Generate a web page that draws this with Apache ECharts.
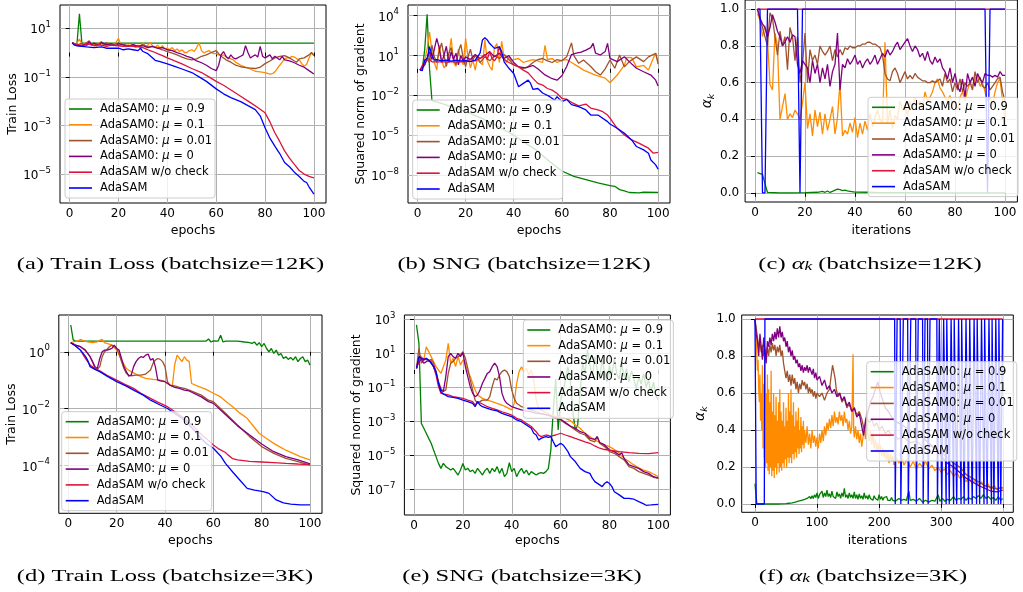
<!DOCTYPE html>
<html>
<head>
<meta charset="utf-8">
<script src="https://cdn.jsdelivr.net/npm/echarts@6/dist/echarts.min.js"></script>
<style>
html,body{margin:0;padding:0;background:#fff;}
#chart{width:1023px;height:592px;}
</style>
</head>
<body>
<div id="chart"></div>
<script>
// ---------- series names & colors ----------
const seriesNames = ['AdaSAM0: μ=0.9', 'AdaSAM0: μ=0.1', 'AdaSAM0: μ=0.01', 'AdaSAM0: μ=0', 'AdaSAM w/o check', 'AdaSAM'];
const seriesColors = ['#008000', '#ff8c00', '#a0522d', '#800080', '#dc143c', '#0000ff'];

// ---------- tick labels ----------
const epochTicks = [0, 20, 40, 60, 80, 100];
const iterTicks12K = [0, 20, 40, 60, 80, 100];
const iterTicks3K = [0, 100, 200, 300, 400];
const alphaTicks = [0, 0.2, 0.4, 0.6, 0.8, 1.0];
const lossExp12K = [-5, -3, -1, 1];
const sngExp12K = [-8, -5, -2, 1, 4];
const lossExp3K = [-4, -2, 0];
const sngExp3K = [-7, -5, -3, -1, 1, 3];

// ---------- (a) Train loss, batchsize 12K : [epoch, loss] ----------
const lossA_mu09 = [[1,2.5],[2,2.3],[3,2.3],[4,39],[5,2.45],[6,2.42],[10,2.42],[20,2.42],[30,2.42],[40,2.42],[50,2.42],[60,2.42],[70,2.42],[80,2.42],[90,2.42],[100,2.42]];
const lossA_mu01 = [[1,2.5],[2,2.3],[3,2.4],[4,3.6],[5,2.2],[6,2.4],[7,1.9],[8,2.6],[9,2.0],[10,2.3],[11,1.8],[12,2.5],[13,1.9],[14,2.2],[15,1.8],[16,2.4],[17,1.9],[18,2.1],[19,2.6],[20,3.8],[21,2.0],[22,2.4],[23,1.7],[24,2.1],[25,1.8],[26,2.3],[27,1.6],[28,2.0],[29,1.8],[30,2.5],[31,1.7],[32,2.0],[33,2.6],[34,1.8],[35,1.6],[36,2.0],[37,1.5],[38,1.9],[39,1.4],[40,1.5],[41,1.3],[42,1.6],[43,1.2],[44,1.4],[45,1.1],[46,1.3],[47,1.0],[48,1.0],[49,1.2],[50,1.3],[51,1.1],[52,1.6],[53,2.5],[54,1.2],[55,0.95],[56,1.1],[57,1.2],[58,1.0],[59,0.9],[60,0.9],[61,0.8],[62,0.75],[63,0.8],[64,0.65],[65,0.6],[66,0.55],[67,0.5],[68,0.4],[69,0.35],[70,0.3],[72,0.25],[74,0.21],[76,0.17],[78,0.16],[80,0.15],[82,0.13],[83,0.135],[84,0.16],[85,0.22],[86,0.3],[87,0.4],[88,0.55],[89,0.6],[90,0.6],[91,0.7],[92,0.65],[93,0.55],[94,0.5],[95,0.35],[96,0.28],[97,0.32],[98,0.6],[99,0.95],[100,0.8]];
const lossA_mu001 = [[1,2.5],[2,2.3],[3,2.1],[4,2.2],[5,2.4],[6,1.9],[7,2.6],[8,3.0],[9,2.1],[10,2.5],[11,2.0],[12,2.3],[13,2.8],[14,2.0],[15,2.6],[16,2.0],[17,2.2],[18,1.9],[19,2.4],[20,2.0],[22,2.2],[24,1.9],[26,2.0],[28,1.8],[30,2.1],[32,1.7],[34,1.8],[36,1.5],[38,1.3],[40,1.1],[42,0.95],[44,0.8],[46,0.65],[48,0.55],[50,0.5],[52,0.55],[54,0.7],[56,0.8],[58,1.0],[60,1.2],[61,0.9],[62,0.7],[64,0.5],[66,0.4],[68,0.3],[70,0.26],[72,0.24],[74,0.23],[76,0.22],[78,0.25],[80,0.35],[82,0.45],[84,0.6],[86,0.7],[88,0.75],[90,0.6],[92,0.45],[93,0.4],[94,0.55],[96,0.6],[98,0.8],[99,1.0],[100,0.75]];
const lossA_mu0 = [[1,2.5],[2,2.2],[3,2.0],[5,1.8],[6,2.2],[7,2.0],[8,2.8],[9,2.1],[10,2.4],[12,2.0],[13,2.6],[15,2.1],[17,2.3],[19,1.9],[20,2.4],[22,2.0],[24,1.8],[26,2.1],[28,1.8],[30,1.9],[32,1.6],[34,1.8],[36,1.5],[38,1.6],[40,1.3],[42,1.2],[44,1.0],[46,0.85],[48,0.7],[50,0.6],[52,0.45],[54,0.38],[56,0.3],[58,0.22],[60,0.18],[61,0.3],[62,0.8],[63,1.1],[64,0.7],[65,0.55],[66,0.8],[67,0.6],[68,0.55],[70,0.7],[71,0.8],[72,1.9],[73,1.0],[74,0.6],[75,0.7],[76,0.8],[77,0.65],[78,1.8],[79,0.7],[80,0.6],[82,0.8],[83,0.55],[84,0.7],[86,0.5],[87,0.7],[88,0.5],[90,0.45],[92,0.38],[94,0.3],[96,0.25],[98,0.18],[100,0.13]];
const lossA_noCheck = [[1,2.5],[3,2.1],[5,2.0],[8,2.2],[10,1.9],[12,2.1],[15,1.8],[17,2.0],[20,1.9],[22,1.8],[24,1.9],[26,1.8],[28,1.7],[30,1.6],[32,1.3],[34,1.1],[36,0.9],[38,0.75],[40,0.6],[43,0.45],[46,0.34],[50,0.22],[54,0.15],[57,0.1],[60,0.065],[63,0.045],[67,0.025],[70,0.016],[74,0.0087],[77,0.0055],[80,0.0033],[82,0.0014],[84,5e-4],[86,2.2e-4],[88,9e-5],[90,4.5e-5],[92,2.5e-5],[94,1.4e-5],[96,1.0e-5],[98,8e-6],[100,7e-6]];
const lossA_adasam = [[1,2.5],[2,2.0],[3,1.9],[5,1.8],[7,1.7],[10,1.6],[13,1.7],[15,1.5],[18,1.5],[20,1.5],[22,1.3],[24,1.4],[26,1.3],[28,1.2],[29,1.5],[30,1.1],[32,0.9],[34,0.6],[35,0.48],[37,0.42],[40,0.34],[43,0.27],[46,0.21],[50,0.15],[53,0.1],[56,0.065],[60,0.032],[63,0.02],[66,0.014],[70,0.0095],[73,0.0065],[76,0.0045],[78,0.0025],[80,8e-4],[82,3e-4],[84,1.4e-4],[86,7e-5],[88,3e-5],[90,2e-5],[92,1.2e-5],[94,8e-6],[96,5e-6],[97,4.5e-6],[98,3e-6],[100,1.5e-6]];

// ---------- (b) Squared norm of gradient, batchsize 12K ----------
const sngB_mu09 = [[1,0.8],[2,1.0],[3,30],[4,1.3e4],[5,1.0],[6,4e-3],[10,2.5e-3],[15,1.2e-3],[20,6.3e-4],[25,2.5e-4],[30,1e-4],[35,3.2e-5],[40,1e-5],[45,2.5e-6],[50,6.3e-7],[55,1e-7],[60,2e-8],[65,7.9e-9],[70,4.5e-9],[75,2.5e-9],[80,1.6e-9],[82,1.4e-9],[84,7.9e-10],[86,6.3e-10],[88,4.8e-10],[92,4.5e-10],[94,5e-10],[100,4.8e-10]];
const sngB_mu01 = [[1,0.8],[2,1],[3,5],[4,30],[5,600],[6,20],[7,3],[8,0.8],[9,60],[10,5],[11,1.2],[12,2],[13,10],[14,200],[15,3],[16,1.5],[17,30],[18,5],[19,2],[20,200],[21,8],[22,1.2],[23,5],[24,0.8],[25,10],[26,3],[27,2],[28,150],[29,4],[30,1.5],[31,0.8],[32,40],[33,80],[34,3],[35,120],[36,6],[37,3],[38,8],[39,4],[40,5],[42,6],[44,3],[46,4],[48,5],[50,4],[52,3],[53,60],[54,5],[56,6],[58,3],[60,4.5],[62,5],[64,3],[67,1.4],[69,0.8],[74,0.34],[78,0.2],[80,0.09],[83,0.34],[86,1.9],[87,7.4],[89,7],[91,1.4],[94,1.8],[96,0.8],[98,6.2],[99,15],[100,3.5]];
const sngB_mu001 = [[1,0.8],[3,2],[4,5],[5,3],[6,60],[7,8],[8,3],[9,20],[10,90],[11,10],[12,1.5],[13,15],[14,40],[15,5],[16,2],[17,20],[18,70],[19,6],[20,1.5],[21,8],[22,30],[23,5],[24,10],[26,3],[28,8],[30,4],[32,10],[34,6],[36,12],[38,5],[40,2],[42,1.5],[44,1.1],[46,1.5],[48,3],[50,5],[52,6],[54,4],[56,3],[58,5],[60,4],[62,8],[64,90],[65,10],[67,2.6],[69,4.6],[72,1.5],[74,0.6],[76,0.34],[78,1],[80,4.6],[82,1.1],[84,11],[86,1.4],[88,3.5],[91,8],[94,3.5],[96,8],[99,15],[100,2.3]];
const sngB_mu0 = [[1,0.8],[3,2],[5,20],[6,5],[7,30],[8,200],[9,40],[10,3],[11,10],[12,50],[13,3],[14,20],[15,5],[16,15],[17,2],[18,10],[19,4],[20,8],[22,5],[24,12],[26,6],[28,10],[30,20],[32,8],[34,15],[36,6],[38,10],[40,3],[42,1.4],[45,1.2],[48,1.8],[50,1.0],[53,0.35],[56,0.18],[58,0.14],[60,0.3],[62,1.5],[64,12],[66,15],[68,18],[70,26],[72,40],[73,83],[74,15],[76,11],[78,20],[79,83],[80,6.2],[83,3.5],[86,8.1],[88,3.5],[91,1.1],[94,0.6],[97,0.34],[99,0.14],[100,0.05]];
const sngB_noCheck = [[1,0.8],[3,4],[4,6],[5,5],[6,3.4],[10,3.4],[15,3.3],[20,3.4],[22,5],[24,4],[26,6],[28,12],[29,5],[30,19],[31,6],[32,4],[33,8],[34,50],[35,10],[36,5],[38,3],[40,2],[42,1.4],[44,0.8],[46,0.5],[48,0.19],[50,0.08],[52,0.06],[54,0.033],[56,0.025],[58,0.014],[60,0.006],[62,0.005],[64,0.003],[67,1.6e-3],[70,2.2e-3],[72,1.1e-3],[75,8e-4],[77,5.9e-4],[79,3.3e-4],[80,1.9e-4],[83,3.3e-5],[86,1.05e-5],[89,4.4e-6],[92,2.5e-6],[96,1.05e-6],[98,4.4e-7],[100,5e-7]];
const sngB_adasam = [[1,0.8],[2,0.75],[3,4.6],[4,6],[5,47],[6,10],[7,4.6],[8,5],[10,4],[12,4.5],[14,3.8],[16,4.5],[18,4],[20,4.2],[22,3.5],[24,4.5],[26,15],[27,150],[28,220],[29,150],[30,80],[32,35],[34,45],[35,20],[36,3.4],[38,1.1],[40,0.45],[42,0.045],[44,0.08],[46,0.14],[47,0.08],[48,0.028],[50,0.033],[52,0.015],[55,8e-3],[57,4.4e-3],[58,8e-3],[60,3.3e-3],[62,5e-3],[64,2e-3],[67,1.4e-3],[70,8e-4],[72,3.3e-4],[75,3.3e-4],[79,1.05e-4],[80,6.9e-5],[83,3.3e-5],[86,1.4e-5],[89,4.4e-6],[91,1.4e-6],[94,7.8e-7],[96,4.4e-7],[97,1.35e-7],[99,5.8e-8],[100,2.7e-8]];

// ---------- (c) alpha_k, batchsize 12K : value per iteration 1..100 ----------
const alphaC_mu09 = [[1,0.11],[2,0.105],[3,0.1],[4,0.05],[5,0.002],[10,0.0],[15,0.0],[20,0.001],[25,0.003],[27,0.008],[28,0.003],[29,0.01],[30,0.002],[31,0.008],[32,0.015],[33,0.02],[34,0.017],[35,0.012],[36,0.015],[37,0.01],[38,0.008],[40,0.004],[45,0.003],[50,0.001],[60,0.001],[70,0.0],[80,0.0],[90,0.0],[100,0.0]];
const alphaC_mu01 = [0.976,0.94,0.85,0.91,0.83,0.59,0.56,0.87,0.8,0.4,0.47,0.54,0.4,0.43,0.41,0.45,0.43,0.4,0.49,0.6,0.35,0.43,0.31,0.45,0.36,0.44,0.32,0.43,0.34,0.4,0.47,0.32,0.41,0.6,0.31,0.34,0.32,0.38,0.33,0.41,0.3,0.38,0.32,0.39,0.34,0.43,0.36,0.41,0.45,0.4,0.38,0.82,0.38,0.45,0.35,0.42,0.4,0.5,0.45,0.48,0.42,0.5,0.45,0.52,0.48,0.5,0.46,0.55,0.5,0.52,0.55,0.6,0.62,0.57,0.55,0.52,0.5,0.53,0.48,0.5,0.45,0.52,0.55,0.5,0.56,0.6,0.58,0.62,0.64,0.58,0.6,0.55,0.5,0.52,0.48,0.55,0.6,0.62,0.5,0.4];
const alphaC_mu001 = [1.0,0.95,0.9,0.85,0.8,0.98,0.95,0.85,0.75,0.88,0.8,0.85,0.67,0.9,0.85,0.72,0.85,0.6,0.7,0.87,0.6,0.78,0.72,0.75,0.7,0.8,0.77,0.75,0.77,0.8,0.72,0.78,0.74,0.78,0.75,0.79,0.78,0.8,0.79,0.79,0.8,0.8,0.81,0.81,0.82,0.82,0.81,0.81,0.8,0.79,0.75,0.65,0.62,0.61,0.66,0.68,0.65,0.6,0.63,0.66,0.62,0.64,0.62,0.65,0.63,0.62,0.61,0.61,0.6,0.6,0.61,0.6,0.61,0.62,0.58,0.65,0.6,0.62,0.55,0.6,0.56,0.62,0.55,0.6,0.58,0.6,0.56,0.66,0.6,0.63,0.58,0.57,0.6,0.56,0.58,0.6,0.62,0.63,0.55,0.5];
const alphaC_mu0 = [1.0,0.95,0.92,0.9,0.85,0.9,0.97,0.93,0.88,0.85,0.8,0.82,0.85,0.82,0.86,0.85,0.7,0.65,0.72,0.7,0.68,0.6,0.72,0.65,0.7,0.6,0.68,0.62,0.7,0.58,0.66,0.7,0.87,0.56,0.7,0.68,0.73,0.7,0.72,0.75,0.7,0.72,0.68,0.71,0.73,0.7,0.72,0.75,0.7,0.73,0.76,0.74,0.78,0.75,0.77,0.8,0.82,0.78,0.8,0.82,0.84,0.8,0.77,0.8,0.78,0.74,0.76,0.72,0.77,0.72,0.7,0.74,0.71,0.73,0.68,0.66,0.62,0.68,0.6,0.65,0.58,0.55,0.62,0.52,0.65,0.6,0.63,0.58,0.65,0.62,0.6,0.65,0.64,0.64,0.63,0.64,0.63,0.66,0.64,0.64];
const alphaC_noCheck = [1,1,1,1,1,1,1,1,1,1,1,1,1,1,1,1,1,1,1,1,1,1,1,1,1,1,1,1,1,1,1,1,1,1,1,1,1,1,1,1,1,1,1,1,1,1,1,1,1,1,1,1,1,1,1,1,1,1,1,1,1,1,1,1,1,1,1,1,1,1,1,1,1,1,1,1,1,1,1,1,1,1,1,1,1,1,1,1,1,1,1,1,1,1,1,1,1,1,1,1];
const alphaC_adasam = [1,1,0,0,1,1,1,1,1,1,1,1,1,1,1,1,1,0,1,1,1,1,1,1,1,1,1,1,1,1,1,1,1,1,1,1,1,1,1,1,1,1,1,1,1,1,1,1,1,1,1,1,1,1,1,1,1,1,1,1,1,1,1,1,1,1,1,1,1,1,1,1,1,1,1,1,1,1,1,1,1,1,1,1,1,1,1,1,1,1,1,1,0,1,1,1,1,1,1,1];

// ---------- (d) Train loss, batchsize 3K ----------
const lossD_mu09 = [[1,8.7],[2,2.6],[3,2.37],[10,2.37],[20,2.37],[30,2.37],[40,2.37],[50,2.37],[57,2.37],[58,2.8],[59,2.2],[60,2.4],[62,2.37],[63,3.8],[64,2.2],[65,2.37],[70,2.37],[73,2.2],[75,2.1],[76,1.96],[77,2.2],[78,1.7],[79,2.1],[80,1.5],[81,1.96],[82,1.3],[83,1.0],[84,1.3],[85,0.87],[86,1.14],[87,0.76],[88,0.87],[89,0.58],[90,0.67],[91,0.54],[92,0.63],[93,0.51],[94,0.67],[95,0.45],[96,0.58],[97,0.67],[98,0.45],[99,0.51],[100,0.34]];
const lossD_mu01 = [[1,2.07],[2,2.24],[4,2.4],[5,2.7],[6,2.5],[8,2.24],[10,2.1],[12,2.24],[13,2.5],[14,2.7],[15,2.07],[16,1.96],[18,1.71],[20,1.14],[22,0.5],[24,0.26],[26,0.2],[28,0.165],[30,0.133],[32,0.116],[35,0.107],[38,0.101],[40,0.089],[42,0.068],[43,0.059],[44,0.35],[45,0.76],[46,0.58],[47,0.45],[48,0.67],[49,0.51],[50,0.45],[51,0.077],[54,0.06],[57,0.048],[60,0.035],[63,0.026],[66,0.016],[68,0.0118],[71,0.007],[74,4.6e-3],[77,2.2e-3],[79,1.35e-3],[82,9e-4],[85,6.1e-4],[88,4.3e-4],[90,3.5e-4],[93,2.7e-4],[96,2.1e-4],[100,1.6e-4]];
const lossD_mu001 = [[1,2.07],[3,1.71],[5,1.5],[7,1.14],[9,0.67],[10,0.45],[11,0.26],[12,0.24],[13,0.3],[14,0.67],[15,1.0],[16,1.2],[17,1.5],[18,1.71],[19,1.5],[20,1.31],[21,0.87],[22,0.45],[23,0.26],[24,0.174],[25,0.152],[26,0.144],[28,0.152],[30,0.152],[32,0.165],[34,0.23],[35,0.39],[36,0.51],[37,0.58],[38,0.54],[39,0.45],[40,0.3],[41,0.089],[42,0.068],[44,0.063],[46,0.056],[48,0.052],[50,0.045],[55,0.03],[58,0.02],[60,0.0178],[65,6.9e-3],[70,2.7e-3],[75,1.05e-3],[80,4.7e-4],[85,2.7e-4],[90,1.8e-4],[95,1.38e-4],[100,1.05e-4]];
const lossD_mu0 = [[1,2.07],[3,1.71],[5,1.5],[7,1.14],[9,0.67],[10,0.45],[11,0.3],[12,0.26],[13,0.58],[14,1.0],[15,1.14],[16,1.14],[17,1.21],[18,1.31],[19,1.71],[20,1.31],[21,1.14],[22,0.58],[23,0.3],[24,0.2],[25,0.14],[26,0.152],[27,0.3],[28,0.45],[29,0.58],[30,0.67],[31,0.63],[32,0.76],[33,0.83],[34,0.51],[35,0.58],[36,0.3],[37,0.101],[38,0.096],[40,0.089],[42,0.068],[44,0.056],[46,0.052],[48,0.045],[50,0.042],[55,0.026],[58,0.0178],[60,0.0154],[65,6.3e-3],[70,2.5e-3],[75,1.2e-3],[80,5.8e-4],[85,3.1e-4],[90,2.1e-4],[95,1.6e-4],[100,1.15e-4]];
const lossD_noCheck = [[1,2.07],[3,1.6],[5,1.14],[7,0.6],[9,0.34],[11,0.26],[13,0.215],[16,0.15],[20,0.101],[23,0.075],[27,0.052],[30,0.035],[34,0.023],[37,0.017],[41,0.0118],[44,8e-3],[48,4.6e-3],[52,2.3e-3],[54,1.5e-3],[57,9.1e-4],[60,5.3e-4],[62,4e-4],[65,2.9e-4],[66,2.4e-4],[68,1.77e-4],[70,1.6e-4],[75,1.42e-4],[80,1.35e-4],[85,1.28e-4],[90,1.21e-4],[95,1.15e-4],[100,1.1e-4]];
const lossD_adasam = [[1,2.07],[3,1.6],[5,1.14],[7,0.7],[8,0.5],[9,0.3],[11,0.24],[13,0.2],[16,0.14],[20,0.089],[24,0.062],[27,0.045],[31,0.03],[34,0.02],[38,0.0135],[41,0.0102],[45,6e-3],[48,4.0e-3],[52,1.78e-3],[55,9e-4],[57,6.1e-4],[60,4.1e-4],[63,2.2e-4],[65,1.21e-4],[68,6e-5],[71,3.1e-5],[74,1.6e-5],[77,1.4e-5],[79,1.32e-5],[81,1.2e-5],[83,1.07e-5],[86,6.3e-6],[89,5e-6],[92,4.5e-6],[96,4.2e-6],[100,4.2e-6]];

// ---------- (e) Squared norm of gradient, batchsize 3K ----------
const sngE_mu09 = [[1,447],[2,37],[3,7.2e-4],[4,3.7e-4],[5,1.9e-4],[6,9.5e-5],[7,4.9e-5],[8,1.96e-5],[9,8e-6],[10,3.2e-6],[11,1.64e-6],[12,3.2e-6],[13,2.06e-6],[14,1.64e-6],[15,1.3e-6],[16,1.64e-6],[17,1.05e-6],[18,6.6e-7],[19,1.3e-6],[20,3.2e-6],[21,1.3e-6],[22,1.64e-6],[23,1.05e-6],[24,1.3e-6],[25,8.3e-7],[26,1.64e-6],[27,1.05e-6],[28,6.6e-7],[29,1.2e-6],[30,1.64e-6],[31,8.3e-7],[32,1.64e-6],[33,1.05e-6],[34,2.06e-6],[35,8.3e-7],[36,1.64e-6],[37,5.3e-7],[38,8.3e-7],[39,3.5e-6],[40,1.05e-6],[41,1.64e-6],[42,5.3e-7],[43,1.05e-6],[44,1.64e-6],[45,8.3e-7],[46,1.3e-6],[47,6.6e-7],[48,1.05e-6],[49,8.3e-7],[50,6.6e-7],[51,8.3e-7],[52,9.2e-7],[53,8.3e-7],[54,1.05e-6],[55,1.64e-6],[56,2e-5],[57,4.5e-3],[58,0.3],[59,2.96e-4],[60,0.017],[61,0.05],[62,0.3],[63,1.5],[64,0.2],[65,4e-3],[66,2.96e-4],[67,5.8e-4],[68,0.05],[69,3],[70,0.6],[71,15],[72,2],[73,0.4],[74,6],[75,1],[76,0.3],[77,4],[78,0.8],[79,0.2],[80,2],[81,0.5],[82,5],[83,0.6],[84,0.3],[85,2.5],[86,0.4],[87,1.2],[88,0.2],[89,0.9],[90,0.3],[91,0.08],[92,0.4],[93,0.15],[94,0.6],[95,0.1],[96,0.25],[97,0.05],[98,0.2],[99,0.03],[100,0.017]];
const sngE_mu01 = [[1,1.26],[2,7.6],[3,6.1],[4,3.9],[5,23],[6,12],[7,6.1],[8,3.1],[9,1.57],[10,1.0],[11,0.63],[12,1.57],[13,3.9],[14,37],[15,2.5],[16,4.9],[17,1.57],[18,6.1],[19,2.0],[20,3.9],[21,2.5],[22,0.8],[23,0.41],[24,0.165],[25,0.066],[26,0.034],[28,0.0214],[30,0.017],[32,0.0138],[34,0.011],[36,8.7e-3],[38,6.3e-3],[40,4.5e-3],[41,0.011],[42,0.165],[43,0.8],[44,1.57],[45,0.8],[46,1.26],[47,0.51],[48,1.0],[49,0.26],[50,0.017],[51,5.6e-3],[52,4.5e-3],[54,3.1e-3],[56,2.2e-3],[58,1.8e-3],[60,1.66e-3],[62,1.44e-3],[64,1.05e-3],[66,5.8e-4],[68,3.7e-4],[70,1.9e-4],[72,1.2e-4],[74,7.6e-5],[76,5.4e-5],[78,3.9e-5],[80,3.1e-5],[82,2.1e-5],[84,1.26e-5],[86,6.3e-6],[88,4.1e-6],[90,2.6e-6],[92,1.78e-6],[94,1.3e-6],[96,1.05e-6],[98,7.6e-7],[100,5.3e-7]];
const sngE_mu001 = [[1,1.26],[2,19],[3,2.5],[4,3.9],[5,4.9],[6,3.1],[7,4.3],[8,2.5],[9,0.8],[10,0.21],[11,0.083],[12,0.054],[13,0.066],[14,0.63],[15,2.5],[16,3.1],[17,4.9],[18,6.1],[19,7.6],[20,12],[21,4.9],[22,1.26],[23,0.26],[24,0.066],[25,0.017],[26,0.011],[27,0.0138],[28,0.017],[30,0.017],[31,0.027],[32,0.105],[33,0.32],[34,0.26],[35,0.51],[36,0.8],[37,1.0],[38,0.8],[39,0.41],[40,0.066],[41,0.0214],[42,0.011],[44,6.9e-3],[46,5.6e-3],[48,4.5e-3],[50,3.5e-3],[52,2.8e-3],[55,2.2e-3],[58,1.66e-3],[60,1.15e-3],[62,7.2e-4],[64,4.7e-4],[66,2.96e-4],[68,1.9e-4],[70,1.5e-4],[72,7.6e-5],[74,6e-5],[75,1.2e-4],[76,4.9e-5],[78,3.1e-5],[80,1.58e-5],[82,1.26e-5],[84,8e-6],[86,5.1e-6],[88,2.06e-6],[90,1.64e-6],[92,1.05e-6],[94,8.3e-7],[96,6.6e-7],[98,4.9e-7],[100,4.3e-7]];
const sngE_mu0 = [[1,1.26],[2,3.1],[3,4.3],[4,2.5],[5,3.1],[6,3.9],[7,2.5],[8,1.57],[9,0.63],[10,0.165],[11,0.066],[12,0.054],[13,0.41],[14,6.1],[15,9.6],[16,6.1],[17,4.9],[18,9.6],[19,6.1],[20,10.5],[21,1.57],[22,0.41],[23,0.105],[24,0.042],[25,0.027],[26,0.034],[27,0.066],[28,0.165],[29,0.32],[30,0.63],[31,0.8],[32,1.57],[33,2.5],[34,1.57],[35,0.41],[36,0.042],[37,0.017],[38,0.011],[40,6.9e-3],[42,5.6e-3],[44,4.5e-3],[46,3.9e-3],[48,3.4e-3],[50,2.8e-3],[52,2.6e-3],[55,2.2e-3],[58,1.44e-3],[60,1.26e-3],[62,8e-4],[64,5.1e-4],[66,3.7e-4],[68,2.35e-4],[70,1.9e-4],[72,9.5e-5],[74,8.3e-5],[75,1.2e-4],[76,5.4e-5],[78,3.9e-5],[80,1.96e-5],[82,1.58e-5],[84,1e-5],[85,1.38e-5],[86,6.3e-6],[88,2.6e-6],[90,2.06e-6],[92,1.64e-6],[94,1.05e-6],[96,8.3e-7],[98,5.3e-7],[100,4.3e-7]];
const sngE_noCheck = [[1,1.26],[2,3.9],[3,4.9],[5,4.3],[7,3.1],[8,1.57],[9,0.51],[10,0.105],[11,0.042],[12,0.039],[14,0.034],[16,0.027],[18,0.0245],[20,0.0214],[22,0.017],[24,0.0138],[25,8.7e-3],[26,0.0138],[28,0.01],[30,6.9e-3],[32,5.6e-3],[34,4.5e-3],[36,3.5e-3],[38,2.8e-3],[40,2.2e-3],[42,1.44e-3],[44,1.15e-3],[46,7.2e-4],[48,4.7e-4],[50,2.35e-4],[51,1.5e-4],[52,1.2e-4],[54,1.5e-4],[56,1.3e-4],[58,1.5e-4],[60,1.9e-4],[62,1.5e-4],[64,1.2e-4],[66,9.5e-5],[68,7.6e-5],[70,6e-5],[72,4.9e-5],[74,3.4e-5],[76,2.5e-5],[78,2.1e-5],[80,1.96e-5],[84,1.58e-5],[88,1.38e-5],[92,1.26e-5],[96,1.2e-5],[100,1.38e-5]];
const sngE_adasam = [[1,1.26],[2,6.1],[3,4.9],[4,3.9],[5,4.9],[6,3.9],[7,2.5],[8,1.57],[9,0.8],[10,0.165],[11,0.054],[12,0.039],[14,0.027],[16,0.0245],[18,0.0214],[20,0.017],[22,0.0138],[24,0.011],[25,6.9e-3],[26,0.0138],[27,8.7e-3],[28,6.9e-3],[30,5.6e-3],[32,4.5e-3],[34,3.9e-3],[36,2.8e-3],[38,2.2e-3],[40,1.8e-3],[42,1.15e-3],[44,9.1e-4],[46,5.8e-4],[48,3.7e-4],[49,1.9e-4],[50,1.5e-4],[51,7.6e-5],[52,9.5e-5],[53,1.1e-4],[54,1.2e-4],[55,1.1e-4],[56,1.2e-4],[57,6e-5],[58,3.1e-5],[59,3.9e-5],[60,4.9e-5],[61,3.9e-5],[62,2.5e-5],[63,1.58e-5],[64,8e-6],[66,4.1e-6],[68,1.64e-6],[70,1.05e-6],[72,8.3e-7],[73,4.3e-7],[74,2.7e-7],[76,1.74e-7],[77,1.38e-7],[78,2.1e-7],[79,2.7e-7],[80,2.1e-7],[81,1.38e-7],[82,6.9e-8],[84,4.5e-8],[86,2.8e-8],[88,2.8e-8],[90,2.5e-8],[92,1.8e-8],[94,1.32e-8],[95,1.1e-8],[97,1.15e-8],[100,1.26e-8]];

// ---------- (f) alpha_k, batchsize 3K : [iteration, alpha] ----------
const alphaF_mu09 = [[0,0.11],[1,0.1],[2,0.1],[3,0.0],[10,0.0],[20,0.0],[30,0.0],[40,0.0],[50,0.002],[55,0.004],[60,0.006],[65,0.01],[70,0.015],[75,0.02],[80,0.025],[84,0.03],[86,0.02],[88,0.04],[90,0.028],[92,0.045],[94,0.03],[96,0.05],[98,0.035],[100,0.06],[102,0.03],[104,0.05],[106,0.04],[108,0.07],[110,0.035],[112,0.06],[114,0.04],[116,0.075],[118,0.04],[120,0.055],[122,0.035],[124,0.07],[126,0.04],[128,0.05],[130,0.03],[132,0.065],[134,0.04],[136,0.055],[138,0.03],[140,0.06],[142,0.04],[144,0.085],[146,0.035],[148,0.05],[150,0.03],[152,0.06],[154,0.035],[156,0.05],[158,0.03],[160,0.065],[162,0.03],[164,0.05],[166,0.025],[168,0.055],[170,0.03],[172,0.045],[174,0.025],[176,0.06],[178,0.03],[180,0.045],[182,0.025],[184,0.05],[186,0.03],[188,0.04],[190,0.02],[192,0.045],[194,0.03],[196,0.035],[198,0.02],[200,0.05],[202,0.025],[204,0.04],[206,0.02],[208,0.035],[210,0.025],[212,0.04],[214,0.02],[216,0.03],[218,0.02],[220,0.035],[222,0.02],[224,0.03],[226,0.015],[228,0.02],[232,0.03],[236,0.02],[240,0.025],[244,0.02],[248,0.07],[250,0.02],[255,0.025],[260,0.015],[265,0.03],[270,0.01],[275,0.02],[280,0.01],[285,0.02],[290,0.015],[295,0.05],[298,0.015],[302,0.03],[306,0.015],[310,0.025],[315,0.02],[320,0.04],[324,0.02],[328,0.03],[332,0.025],[336,0.04],[340,0.02],[344,0.035],[348,0.025],[352,0.04],[356,0.03],[360,0.045],[364,0.03],[368,0.05],[372,0.03],[376,0.04],[380,0.025],[384,0.035],[388,0.02],[392,0.04],[396,0.02],[399,0.03]];
const alphaF_mu01 = [[0,1.0],[1,0.96],[2,0.9],[3,0.8],[4,0.72],[5,0.78],[6,0.62],[7,0.55],[8,0.7],[9,0.45],[10,0.6],[11,0.4],[12,0.75],[13,0.3],[14,0.65],[15,0.25],[16,0.8],[17,0.2],[18,0.6],[19,0.22],[20,0.7],[21,0.18],[22,0.62],[23,0.16],[24,0.55],[25,0.2],[26,0.72],[27,0.15],[28,0.5],[29,0.18],[30,0.6],[31,0.14],[32,0.48],[33,0.2],[34,0.58],[35,0.16],[36,0.45],[37,0.22],[38,0.55],[39,0.17],[40,0.62],[41,0.2],[42,0.5],[43,0.18],[44,0.45],[45,0.22],[46,0.55],[47,0.2],[48,0.42],[49,0.24],[50,0.52],[51,0.2],[52,0.45],[53,0.25],[54,0.6],[55,0.22],[56,0.5],[57,0.25],[58,0.62],[59,0.22],[60,0.48],[61,0.27],[62,0.55],[63,0.24],[64,0.42],[65,0.28],[66,0.5],[67,0.25],[68,0.45],[69,0.3],[70,0.52],[71,0.27],[72,0.4],[73,0.3],[74,0.47],[75,0.28],[76,0.42],[77,0.32],[78,0.45],[79,0.3],[80,0.4],[82,0.33],[84,0.42],[86,0.32],[88,0.38],[90,0.3],[92,0.4],[94,0.33],[96,0.37],[98,0.31],[100,0.36],[102,0.3],[104,0.38],[106,0.33],[108,0.4],[110,0.34],[112,0.42],[114,0.37],[116,0.44],[118,0.4],[120,0.46],[122,0.41],[124,0.48],[126,0.42],[128,0.5],[130,0.44],[132,0.47],[134,0.43],[136,0.5],[138,0.45],[140,0.48],[142,0.42],[144,0.5],[146,0.44],[148,0.46],[150,0.4],[152,0.45],[154,0.38],[156,0.42],[158,0.81],[159,0.4],[160,0.36],[162,0.42],[164,0.35],[166,0.4],[168,0.33],[170,0.38],[172,0.31],[174,0.36],[176,0.42],[178,0.35],[180,0.5],[182,0.38],[184,0.34],[186,0.4],[188,0.32],[190,0.38],[192,0.3],[194,0.35],[196,0.28],[198,0.33],[200,0.27],[202,0.32],[204,0.26],[206,0.3],[208,0.25],[210,0.29],[212,0.24],[214,0.28],[216,0.22],[218,0.27],[220,0.23],[222,0.26],[224,0.21],[228,0.25],[232,0.22],[236,0.26],[240,0.21],[245,0.24],[250,0.2],[255,0.23],[260,0.19],[265,0.22],[270,0.2],[275,0.23],[280,0.19],[285,0.21],[290,0.18],[295,0.2],[300,0.17],[305,0.19],[310,0.16],[315,0.18],[320,0.15],[325,0.17],[330,0.14],[335,0.15],[340,0.12],[345,0.14],[350,0.11],[355,0.13],[360,0.1],[365,0.12],[370,0.09],[375,0.11],[380,0.08],[385,0.1],[390,0.08],[395,0.09],[399,0.08]];
const alphaF_mu001 = [[0,1.0],[2,0.95],[4,0.9],[6,0.85],[8,0.88],[10,0.82],[12,0.86],[14,0.8],[16,0.84],[18,0.78],[20,0.85],[22,0.8],[24,0.86],[26,0.82],[28,0.87],[30,0.83],[32,0.86],[34,0.8],[36,0.85],[38,0.82],[40,0.86],[42,0.8],[44,0.83],[46,0.76],[48,0.72],[50,0.68],[52,0.72],[54,0.66],[56,0.7],[58,0.64],[60,0.7],[62,0.65],[64,0.68],[66,0.62],[68,0.66],[70,0.6],[72,0.65],[74,0.62],[76,0.67],[78,0.64],[80,0.66],[82,0.62],[84,0.65],[86,0.6],[88,0.63],[90,0.6],[92,0.62],[94,0.58],[96,0.61],[98,0.57],[100,0.6],[104,0.58],[108,0.6],[112,0.56],[116,0.6],[120,0.62],[123,0.7],[125,0.75],[127,0.74],[129,0.68],[131,0.62],[134,0.58],[137,0.6],[140,0.55],[144,0.57],[148,0.52],[152,0.54],[156,0.5],[160,0.52],[164,0.48],[168,0.5],[172,0.46],[176,0.4],[180,0.47],[184,0.44],[188,0.46],[192,0.42],[196,0.44],[200,0.4],[205,0.42],[210,0.38],[215,0.4],[220,0.37],[225,0.38],[230,0.35],[240,0.36],[250,0.33],[260,0.34],[270,0.31],[280,0.32],[290,0.3],[300,0.28],[310,0.25],[320,0.22],[330,0.2],[340,0.16],[350,0.14],[360,0.12],[370,0.1],[380,0.09],[390,0.08],[399,0.09]];
const alphaF_mu0 = [[0,1.0],[2,0.92],[4,0.88],[6,0.8],[8,0.92],[10,0.85],[12,0.78],[14,0.9],[16,0.83],[18,0.76],[20,0.88],[22,0.85],[24,0.9],[26,0.86],[28,0.92],[30,0.88],[32,0.93],[34,0.89],[36,0.95],[38,0.9],[40,0.96],[42,0.9],[44,0.93],[46,0.88],[48,0.9],[50,0.85],[52,0.88],[54,0.82],[56,0.85],[58,0.8],[60,0.83],[62,0.78],[64,0.8],[66,0.76],[68,0.78],[70,0.74],[72,0.76],[74,0.72],[76,0.75],[78,0.71],[80,0.74],[82,0.72],[84,0.75],[86,0.71],[88,0.74],[90,0.72],[92,0.7],[94,0.73],[96,0.68],[98,0.71],[100,0.67],[104,0.69],[108,0.64],[112,0.67],[116,0.62],[120,0.64],[124,0.6],[128,0.62],[132,0.58],[136,0.6],[140,0.56],[144,0.58],[148,0.53],[152,0.55],[156,0.5],[160,0.52],[164,0.47],[168,0.49],[172,0.42],[175,0.37],[178,0.45],[182,0.5],[186,0.55],[190,0.58],[194,0.62],[198,0.66],[202,0.6],[206,0.56],[210,0.52],[215,0.5],[220,0.47],[225,0.45],[230,0.44],[240,0.42],[250,0.4],[260,0.38],[270,0.36],[280,0.33],[290,0.3],[300,0.26],[310,0.22],[320,0.2],[330,0.17],[340,0.14],[350,0.12],[360,0.1],[370,0.085],[380,0.07],[390,0.065],[399,0.075]];
const alphaF_noCheck = [[0,1],[50,1],[100,1],[150,1],[200,1],[250,1],[300,1],[350,1],[399,1]];
const alphaF_adasam = [[0,1],[1,1],[2,0],[15,0],[16,1],[225,1],[226,0],[228,0],[229,1],[234,1],[235,0],[238,0],[239,1],[246,1],[247,0],[250,0],[251,1],[259,1],[260,0],[262,0],[263,1],[270,1],[271,0],[273,0],[274,1],[278,1],[279,0],[281,0],[282,1],[293,1],[294,0],[296,0],[297,1],[300,1],[301,0],[303,0],[304,1],[307,1],[308,0],[309,1],[312,1],[313,0],[315,0],[316,1],[319,1],[320,0],[321,1],[324,1],[325,0],[327,0],[328,1],[331,1],[332,0],[333,1],[336,1],[337,0],[339,0],[340,1],[343,1],[344,0],[346,1],[349,1],[350,0],[352,0],[353,1],[356,1],[357,0],[358,1],[361,1],[362,0],[364,0],[365,1],[368,1],[369,0],[370,1],[373,1],[374,0],[376,0],[377,1],[380,1],[381,0],[382,1],[384,1],[385,0],[387,0],[388,1],[391,1],[392,0],[393,1],[395,1],[396,0],[398,0],[399,1]];

// ---------- helpers ----------
const FONT = 'DejaVu Sans';
const toPairs = arr => arr.map((v, i) => [i + 1, v]);

const panels = [
  { grid: {left: 60, top: 5, width: 266, height: 198}, x: [-3.95, 104.95], xTicks: epochTicks, xName: 'epochs', xGap: 21,
    y: [-6.19, 1.955], yTicks: lossExp12K, log: true, yName: 'Train Loss', yGap: 38, yMargin: 9,
    data: [lossA_mu09, lossA_mu01, lossA_mu001, lossA_mu0, lossA_noCheck, lossA_adasam], legend: [65, 99, 1.8] },
  { grid: {left: 408, top: 5, width: 262, height: 198}, x: [-3.95, 104.95], xTicks: epochTicks, xName: 'epochs', xGap: 21,
    y: [-10.11, 4.81], yTicks: sngExp12K, log: true, yName: 'Squared norm of gradient', yGap: 38, yMargin: 9,
    data: [sngB_mu09, sngB_mu01, sngB_mu001, sngB_mu0, sngB_noCheck, sngB_adasam], legend: [412.7, 100, 1.8] },
  { grid: {left: 745.1, top: 0, width: 272.3, height: 202}, x: [-3.95, 104.95], xTicks: iterTicks12K, xName: 'iterations', xGap: 22,
    y: [-0.05, 1.05], yTicks: alphaTicks, log: false, yName: 'alpha', yGap: 29, yMargin: 6,
    data: [alphaC_mu09, toPairs(alphaC_mu01), toPairs(alphaC_mu001), toPairs(alphaC_mu0), toPairs(alphaC_noCheck), toPairs(alphaC_adasam)], legend: [868, 97.3, 1.86] },
  { grid: {left: 58.8, top: 315, width: 263.2, height: 198.3}, x: [-3.95, 104.95], xTicks: epochTicks, xName: 'epochs', xGap: 21,
    y: [-5.67, 1.29], yTicks: lossExp3K, log: true, yName: 'Train Loss', yGap: 38, yMargin: 9,
    data: [lossD_mu09, lossD_mu01, lossD_mu001, lossD_mu0, lossD_noCheck, lossD_adasam], legend: [61.7, 411.7, 1.8] },
  { grid: {left: 404.4, top: 315, width: 266, height: 200}, x: [-3.95, 104.95], xTicks: epochTicks, xName: 'epochs', xGap: 19,
    y: [-8.53, 3.235], yTicks: sngExp3K, log: true, yName: 'Squared norm of gradient', yGap: 38, yMargin: 9,
    data: [sngE_mu09, sngE_mu01, sngE_mu001, sngE_mu0, sngE_noCheck, sngE_adasam], legend: [523.3, 320, 1.66] },
  { grid: {left: 741.7, top: 315, width: 271.6, height: 197.3}, x: [-21.4, 416.2], xTicks: iterTicks3K, xName: 'iterations', xGap: 22,
    y: [-0.045, 1.0216], yTicks: alphaTicks, log: false, yName: 'alpha', yGap: 32, yMargin: 6,
    data: [alphaF_mu09, alphaF_mu01, alphaF_mu001, alphaF_mu0, alphaF_noCheck, alphaF_adasam], legend: [866.7, 361.7, 1.86] }
];

const legendText = {
  'AdaSAM0: μ=0.9': '{t|AdaSAM0: }{m|μ}{t| = 0.9}',
  'AdaSAM0: μ=0.1': '{t|AdaSAM0: }{m|μ}{t| = 0.1}',
  'AdaSAM0: μ=0.01': '{t|AdaSAM0: }{m|μ}{t| = 0.01}',
  'AdaSAM0: μ=0': '{t|AdaSAM0: }{m|μ}{t| = 0}',
  'AdaSAM w/o check': '{t|AdaSAM w/o check}',
  'AdaSAM': '{t|AdaSAM}'
};

const grids = [], xAxes = [], yAxes = [], series = [], legends = [];
panels.forEach((p, gi) => {
  grids.push(Object.assign({show: true, borderColor: '#000', borderWidth: 1, backgroundColor: '#fff', containLabel: false, outerBoundsMode: 'none'}, p.grid));
  xAxes.push({
    type: 'value', gridIndex: gi, min: p.x[0], max: p.x[1],
    name: p.xName, nameLocation: 'middle', nameGap: p.xGap,
    nameTextStyle: {fontSize: 12.5, color: '#000', fontFamily: FONT},
    axisLine: {show: false},
    axisTick: {show: true, length: 4, lineStyle: {color: '#000', width: 1}, customValues: p.xTicks},
    axisLabel: {customValues: p.xTicks, fontSize: 12, color: '#000', margin: 5, fontFamily: FONT},
    splitLine: {show: true, lineStyle: {color: '#b0b0b0', width: 1}}
  });
  const yName = p.yName === 'alpha' ? '{a|α}{k|k}' : p.yName;
  yAxes.push({
    type: 'value', gridIndex: gi, min: p.y[0], max: p.y[1],
    name: yName, nameLocation: 'middle', nameGap: p.yGap,
    nameTextStyle: {fontSize: 12.5, color: '#000', fontFamily: FONT,
      rich: {a: {fontSize: 14, fontStyle: 'italic', fontFamily: FONT, lineHeight: 16, verticalAlign: 'top'},
             k: {fontSize: 9.5, fontStyle: 'italic', fontFamily: FONT, lineHeight: 12, verticalAlign: 'bottom'}}},
    axisLine: {show: false},
    axisTick: {show: true, length: 4, lineStyle: {color: '#000', width: 1}, customValues: p.yTicks},
    axisLabel: {
      customValues: p.yTicks, fontSize: 12, color: '#000', margin: p.yMargin, fontFamily: FONT,
      formatter: p.log
        ? (v => '{b|10}{s|' + (v < 0 ? '\u2212' : '') + Math.abs(Math.round(v)) + '}')
        : (v => v.toFixed(1)),
      rich: {b: {fontSize: 12, fontFamily: FONT, lineHeight: 16, verticalAlign: 'bottom'},
             s: {fontSize: 8.5, fontFamily: FONT, lineHeight: 7, verticalAlign: 'top'}}
    },
    splitLine: {show: true, lineStyle: {color: '#b0b0b0', width: 1}}
  });
  p.data.forEach((d, si) => {
    series.push({
      type: 'line', name: seriesNames[si], xAxisIndex: gi, yAxisIndex: gi,
      data: d.map(pt => [pt[0], p.log ? Math.log10(pt[1]) : pt[1]]),
      showSymbol: false, symbol: 'none', clip: true, silent: true,
      lineStyle: {color: seriesColors[si], width: 1.3},
      itemStyle: {color: seriesColors[si]},
      z: 2 + si * 0.01
    });
  });
  legends.push({
    show: true, orient: 'vertical', left: p.legend[0], top: p.legend[1],
    data: seriesNames.slice(), icon: 'rect', itemWidth: 23, itemHeight: 1.6, itemGap: p.legend[2],
    padding: [3, 3, 3, 4], backgroundColor: 'rgba(255,255,255,0.8)', borderColor: '#cccccc', borderWidth: 1, borderRadius: 3,
    selectedMode: false, z: 10,
    formatter: n => legendText[n],
    textStyle: {fontSize: 11.5, lineHeight: 14, color: '#000', fontFamily: FONT, padding: [0, 0, 0, 3],
      rich: {t: {fontSize: 11.5, lineHeight: 14, fontFamily: FONT, color: '#000'},
             m: {fontSize: 11.5, lineHeight: 14, fontFamily: FONT, fontStyle: 'italic', color: '#000'}}}
  });
});

// ---------- captions ----------
const captions = [
  {x: 170.5, y: 263, text: '{n|(a) Train Loss (batchsize=12K)}'},
  {x: 524, y: 263, text: '{n|(b) SNG (batchsize=12K)}'},
  {x: 870, y: 263, text: '{n|(c) }{a|α}{k|k}{n| (batchsize=12K)}'},
  {x: 165, y: 575, text: '{n|(d) Train Loss (batchsize=3K)}'},
  {x: 522, y: 575, text: '{n|(e) SNG (batchsize=3K)}'},
  {x: 863, y: 575, text: '{n|(f) }{a|α}{k|k}{n| (batchsize=3K)}'}
];
const capRich = {
  n: {fontSize: 17, fontFamily: 'Liberation Serif', fill: '#000', lineHeight: 20, verticalAlign: 'bottom'},
  a: {fontSize: 17, fontFamily: 'Liberation Serif', fontStyle: 'italic', fill: '#000', lineHeight: 20, verticalAlign: 'bottom'},
  k: {fontSize: 12, fontFamily: 'Liberation Serif', fontStyle: 'italic', fill: '#000', lineHeight: 12, verticalAlign: 'bottom'}
};
const graphics = captions.map(c => ({
  type: 'text', x: c.x, y: c.y, scaleX: 1.44, scaleY: 1, silent: true,
  style: {text: c.text, rich: capRich, align: 'center', verticalAlign: 'middle', fill: '#000', fontSize: 17, fontFamily: 'Liberation Serif'}
}));

const chart = echarts.init(document.getElementById('chart'), null, {renderer: 'canvas', width: 1023, height: 592});
chart.setOption({
  backgroundColor: '#fff',
  animation: false,
  grid: grids, xAxis: xAxes, yAxis: yAxes, series: series, legend: legends,
  graphic: graphics
});
</script>
</body>
</html>
